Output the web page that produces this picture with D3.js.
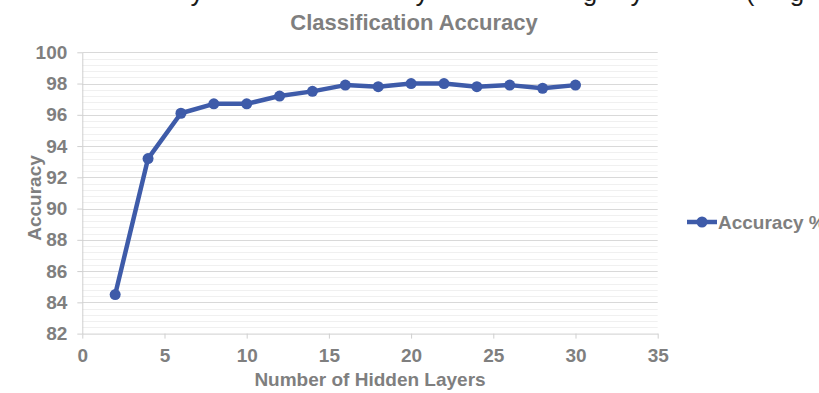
<!DOCTYPE html>
<html>
<head>
<meta charset="utf-8">
<script src="https://cdn.jsdelivr.net/npm/d3@7"></script>
<style>
  html, body { margin: 0; padding: 0; background: #fff; }
  svg { display: block; font-family: "Liberation Sans", Arial, sans-serif; }
</style>
</head>
<body>
<svg id="chart" width="819" height="393"></svg>
<script>
// Classification accuracy vs. number of hidden layers
const hiddenLayers = [2, 4, 6, 8, 10, 12, 14, 16, 18, 20, 22, 24, 26, 28, 30];
const accuracy = [84.5, 93.2, 96.1, 96.7, 96.7, 97.2, 97.5, 97.9, 97.8, 98.0, 98.0, 97.8, 97.9, 97.7, 97.9];
const xTicks = [0, 5, 10, 15, 20, 25, 30, 35];
const yTicks = [82, 84, 86, 88, 90, 92, 94, 96, 98, 100];
const seriesName = "Accuracy %";
const chartTitle = "Classification Accuracy";
const xTitle = "Number of Hidden Layers";
const yTitle = "Accuracy";

const svg = d3.select("#chart");
const textGray = "#7f7f7f";
const lineBlue = "#3e5ba9";

// Descenders of the caption line above the chart, cut off by the page edge
const captionGlyphs = [["y", 197], ["y", 422], ["g", 590], ["y", 637], ["(", 750], ["g", 797]];
svg.append("g").selectAll("text").data(captionGlyphs).join("text")
  .attr("x", d => d[1]).attr("y", 0.5)
  .attr("text-anchor", "middle")
  .attr("font-size", 26).attr("fill", "#1a1a1a")
  .text(d => d[0]);

const plot = { left: 82.3, right: 657.7, top: 52.3, bottom: 333.6 };

const x = d3.scaleLinear().domain([0, 35]).range([plot.left, plot.right]);
const y = d3.scaleLinear().domain([82, 100]).range([plot.bottom, plot.top]);

// Minor gridlines every 0.4
const minor = d3.range(0, 46).filter(i => i % 5 !== 0).map(i => 82 + i * 0.4);
svg.append("g").selectAll("line").data(minor).join("line")
  .attr("x1", plot.left).attr("x2", plot.right)
  .attr("y1", d => Math.round(y(d)) + 0.5).attr("y2", d => Math.round(y(d)) + 0.5)
  .attr("stroke", "#f0f0f0").attr("stroke-width", 1);

// Major gridlines
svg.append("g").selectAll("line").data(yTicks.slice(1)).join("line")
  .attr("x1", plot.left).attr("x2", plot.right)
  .attr("y1", d => Math.round(y(d)) + 0.5).attr("y2", d => Math.round(y(d)) + 0.5)
  .attr("stroke", "#d9d9d9").attr("stroke-width", 1);

// Axes
const yAxis = svg.append("g")
  .attr("transform", `translate(${plot.left},0)`)
  .call(d3.axisLeft(y).tickValues(yTicks).tickSize(5).tickSizeOuter(0).tickPadding(10));
const xAxis = svg.append("g")
  .attr("transform", `translate(0,${plot.bottom})`)
  .call(d3.axisBottom(x).tickValues(xTicks).tickSize(5).tickSizeOuter(0).tickPadding(10));

[xAxis, yAxis].forEach(a => {
  a.select(".domain").attr("stroke", "#cfcfcf");
  a.selectAll(".tick line").attr("stroke", "#cfcfcf");
  a.selectAll(".tick text")
    .attr("fill", textGray).attr("font-size", 19).attr("font-weight", "bold")
    .attr("font-family", "'Liberation Sans', Arial, sans-serif");
});

// Series line and markers
const pts = hiddenLayers.map((h, i) => [h, accuracy[i]]);
svg.append("path")
  .datum(pts)
  .attr("fill", "none").attr("stroke", lineBlue).attr("stroke-width", 4.5)
  .attr("stroke-linejoin", "round")
  .attr("d", d3.line().x(d => x(d[0])).y(d => y(d[1])));
svg.append("g").selectAll("circle").data(pts).join("circle")
  .attr("cx", d => x(d[0])).attr("cy", d => y(d[1])).attr("r", 5.5)
  .attr("fill", lineBlue);

// Titles
svg.append("text")
  .attr("x", 414).attr("y", 30).attr("text-anchor", "middle")
  .attr("font-size", 22).attr("font-weight", "bold").attr("fill", textGray)
  .text(chartTitle);
svg.append("text")
  .attr("x", 370).attr("y", 386).attr("text-anchor", "middle")
  .attr("font-size", 19).attr("font-weight", "bold").attr("fill", textGray)
  .text(xTitle);
svg.append("text")
  .attr("transform", "translate(41,198) rotate(-90)")
  .attr("text-anchor", "middle")
  .attr("font-size", 19).attr("font-weight", "bold").attr("fill", textGray)
  .text(yTitle);

// Legend
const legend = svg.append("g").attr("transform", "translate(687,222)");
legend.append("line").attr("x1", 0).attr("x2", 30).attr("y1", 0).attr("y2", 0)
  .attr("stroke", lineBlue).attr("stroke-width", 4.5);
legend.append("circle").attr("cx", 15).attr("cy", 0).attr("r", 5.5).attr("fill", lineBlue);
legend.append("text").attr("x", 31).attr("y", 7)
  .attr("font-size", 19).attr("font-weight", "bold").attr("fill", textGray)
  .text(seriesName);
</script>
</body>
</html>
